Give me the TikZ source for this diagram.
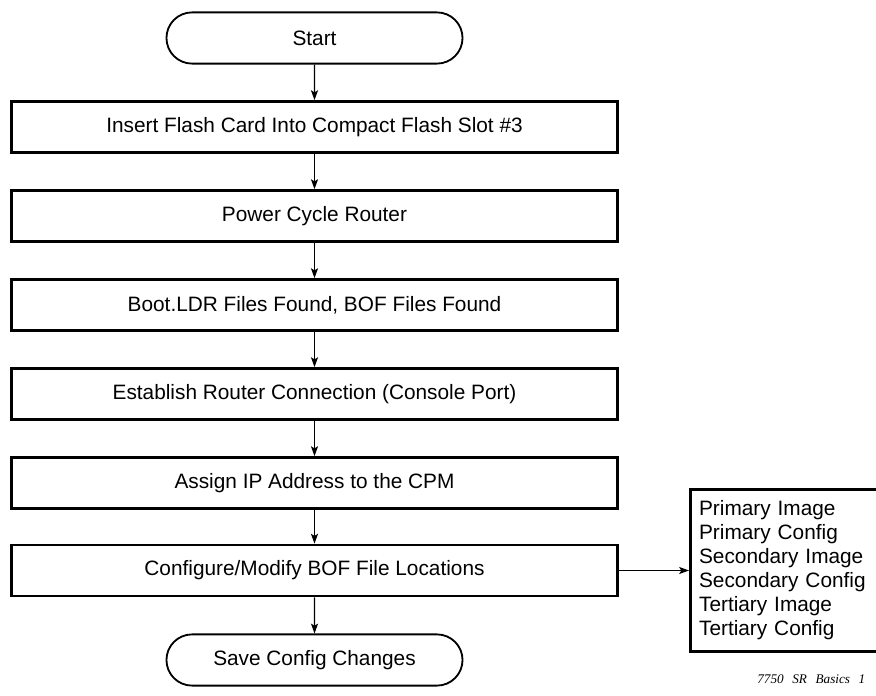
\documentclass[tikz,border=0pt]{standalone}
\usepackage{fontspec}
\setmainfont{Liberation Sans}
\newfontfamily\capfont{Liberation Serif}
\usepackage{tikz}
\usetikzlibrary{shapes.misc}
\usetikzlibrary{arrows.meta}
\tikzstyle{flow}=[draw, inner sep=0pt, font=\fontsize{14.8}{17.1}\selectfont]
\tikzstyle{stepbox}=[flow, rectangle, line width=1.8pt, minimum width=15.15cm, minimum height=1.28cm]
\tikzstyle{term}=[flow, rounded rectangle, line width=1.3pt, minimum width=7.4cm, minimum height=1.28cm]
\tikzstyle{listbox}=[flow, line width=1.8pt, align=left, anchor=west, text width=5cm, inner xsep=0.22cm, minimum height=4.05cm]
\tikzstyle{link}=[line width=0.8pt, -{Stealth[length=7pt, width=5pt, inset=1.5pt]}]

\begin{document}
\begin{tikzpicture}[x=0.025cm, y=-0.025cm]
        \useasboundingbox (0, 0) rectangle (876, 696);
        \node[term] (start) at (314.5, 38) {Start};
        \node[stepbox] (insert) at (314.5, 127) {Insert Flash Card Into Compact Flash Slot \#3};
        \node[stepbox] (power) at (314.5, 216) {Power Cycle Router};
        \node[stepbox] (boot) at (314.5, 305) {Boot.LDR Files Found, BOF Files Found};
        \node[stepbox] (conn) at (314.5, 394) {Establish Router Connection (Console Port)};
        \node[stepbox] (ipaddr) at (314.5, 483) {Assign IP Address to the CPM};
        \node[stepbox] (bof) at (314.5, 570.5) {Configure/Modify BOF File Locations};
        \node[term] (save) at (314.5, 660) {Save Config Changes};
        \node[listbox] (locs) at (689, 570.5) {Primary Image\\Primary Config\\Secondary Image\\Secondary Config\\Tertiary Image\\Tertiary Config};
        \node[anchor=base west, inner sep=0pt, font=\capfont\itshape\fontsize{9.4}{11}\selectfont] (figid) at (757, 683) {7750\hspace{0.65em}SR\hspace{0.65em}Basics\hspace{0.65em}1};
        \draw[link] (start) -- (insert);
        \draw[link] (insert) -- (power);
        \draw[link] (power) -- (boot);
        \draw[link] (boot) -- (conn);
        \draw[link] (conn) -- (ipaddr);
        \draw[link] (ipaddr) -- (bof);
        \draw[link] (bof) -- (save);
        \draw[link] (bof.east) -- (locs.west);
    \end{tikzpicture}
\end{document}
